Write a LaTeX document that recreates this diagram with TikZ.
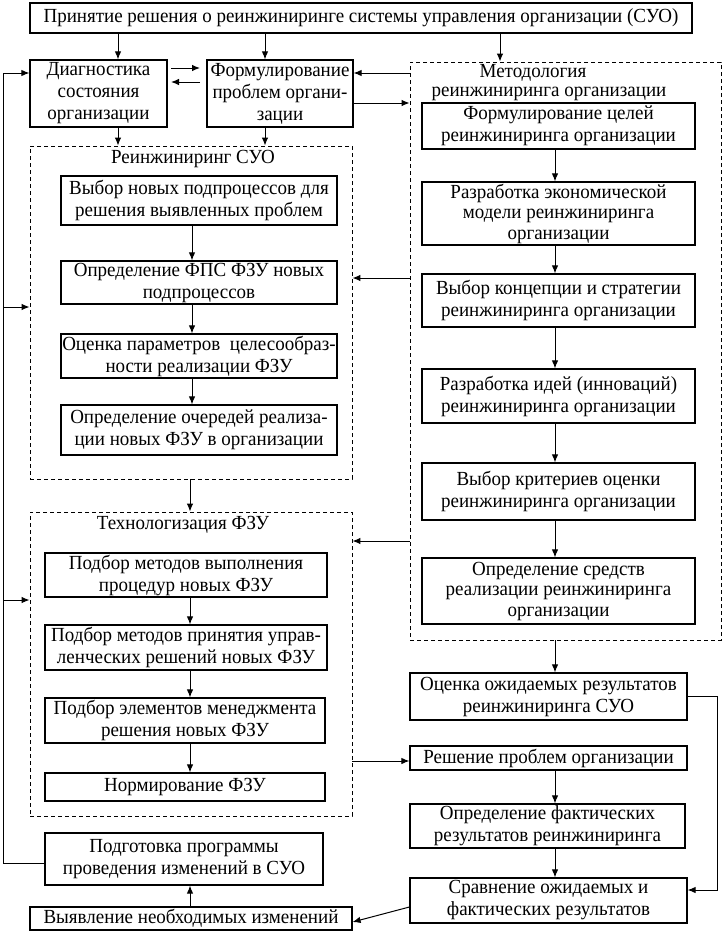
\documentclass[tikz,border=0pt]{standalone}
\usepackage{fontspec}
\setmainfont{Liberation Serif}[FakeStretch=0.95]
\usetikzlibrary{arrows.meta,calc}
\newcommand\fsz{\fontsize{20}{22}\selectfont}
\newcommand\fszt{\fontsize{20}{20.5}\selectfont}
\newcommand\fszm{\fontsize{20}{19}\selectfont}
\begin{document}
\begin{tikzpicture}[x=1pt,y=-1pt,
  box/.style={draw,line width=1.2pt,inner sep=0pt,align=center,font=\fsz},
  grp/.style={draw,line width=0.9pt,dash pattern=on 4pt off 3pt,inner sep=0pt},
  ttl/.style={inner sep=0pt,font=\fsz},
  arr/.style={-{Latex[length=8pt,width=6.5pt]},line width=1pt},
  ln/.style={line width=1pt}]
\useasboundingbox (0,0) rectangle (723,932);
\tikzset{bb/.code args={#1,#2,#3,#4}{\pgfkeysalso{minimum width={(#3-#1)*1pt},minimum height={(#4-#2)*1pt}}}}
% group frames
\node[grp,bb={410,62,721,640}] (meth) at (565.5,351) {};
\node[grp,bb={30,146,352,479}] (reeng) at (191,312.5) {};
\node[grp,bb={30,512,352,816}] (tech) at (191,664) {};
\node[ttl,font=\fszm,align=center] (methT) at (549,83) {Методология\hspace*{32pt}\\реинжиниринга организации};
\node[ttl] (reengT) at (193,159) {Реинжиниринг СУО};
\node[ttl] (techT) at (183,525) {Технологизация ФЗУ};
% top
\node[box,bb={30,3,692,33}] (top) at (361,18) {Принятие решения о реинжиниринге системы управления организации (СУО)};
\node[box,bb={30,60,167,127}] (diag) at (98.5,93.5) {Диагностика\\состояния\\организации};
\node[box,bb={207,60,353,127}] (form) at (280,93.5) {Формулирование\\проблем органи-\\зации};
% reengineering
\node[box,bb={61,176,337,225}] (r1) at (199,200.5) {Выбор новых подпроцессов для\\решения выявленных проблем};
\node[box,bb={61,261,337,304}] (r2) at (199,282.5) {Определение ФПС ФЗУ новых\\подпроцессов};
\node[box,bb={61,334,337,378}] (r3) at (199,356) {Оценка параметров~ целесообраз-\\ности реализации ФЗУ};
\node[box,bb={61,405,337,455}] (r4) at (199,430) {Определение очередей реализа-\\ции новых ФЗУ в организации};
% technologization
\node[box,bb={45,553,327,597}] (t1) at (186,575) {Подбор методов выполнения\\процедур новых ФЗУ};
\node[box,bb={45,625,327,670}] (t2) at (186,647.5) {Подбор методов принятия управ-\\ленческих решений новых ФЗУ};
\node[box,bb={45,698,325,743}] (t3) at (185,720.5) {Подбор элементов менеджмента\\решения новых ФЗУ};
\node[box,bb={45,773,325,801}] (t4) at (185,787) {Нормирование ФЗУ};
% methodology
\node[box,bb={422,103,695,149}] (m1) at (558.5,126) {Формулирование целей\\реинжиниринга организации};
\node[box,bb={422,182,695,245},font=\fszt] (m2) at (558.5,213.5) {Разработка экономической\\модели реинжиниринга\\организации};
\node[box,bb={422,274,695,327}] (m3) at (558.5,300.5) {Выбор концепции и стратегии\\реинжиниринга организации};
\node[box,bb={422,369,695,423}] (m4) at (558.5,396) {Разработка идей (инноваций)\\реинжиниринга организации};
\node[box,bb={422,463,695,520}] (m5) at (558.5,491.5) {Выбор критериев оценки\\реинжиниринга организации};
\node[box,bb={422,558,695,624},font=\fszt] (m6) at (558.5,591) {Определение средств\\реализации реинжиниринга\\организации};
% right bottom
\node[box,bb={410,673,687,720}] (ocen) at (548.5,696.5) {Оценка ожидаемых результатов\\реинжиниринга СУО};
\node[box,bb={410,746,687,770}] (resh) at (548.5,758) {Решение проблем организации};
\node[box,bb={410,804,685,848}] (fact) at (547.5,826) {Определение фактических\\результатов реинжиниринга};
\node[box,bb={410,878,687,923}] (srav) at (548.5,900.5) {Сравнение ожидаемых и\\фактических результатов};
% left bottom
\node[box,bb={45,833,323,885}] (podg) at (184,859) {Подготовка программы\\проведения изменений в СУО};
\node[box,bb={30,907,352,930}] (vyy) at (191,918.5) {Выявление необходимых изменений};
% helper coordinates
\coordinate (x118) at (118,0);
\coordinate (x265) at (265,0);
\coordinate (x500) at (500,0);
\coordinate (x192) at (192,0);
\coordinate (x190) at (190,0);
\coordinate (x555) at (555,0);
\coordinate (x717) at (717,0);
\coordinate (x3) at (3,0);
\coordinate (y73) at (0,73);
\coordinate (y103) at (0,103);
\coordinate (y278) at (0,278);
\coordinate (y307) at (0,307);
\coordinate (y541) at (0,541);
\coordinate (y600) at (0,600);
\coordinate (y696) at (0,696);
\coordinate (y761) at (0,761);
\coordinate (y863) at (0,863);
\coordinate (y890) at (0,890);
\coordinate (y907) at (0,907);
\coordinate (y922) at (0,922);
\coordinate (da) at (171,68);
\coordinate (db) at (200,68);
\coordinate (dc) at (200,82);
\coordinate (dd) at (171,82);
% top arrows
\draw[arr] (top.south -| x118) -- (diag.north -| x118);
\draw[arr] (top.south -| x265) -- (form.north -| x265);
\draw[arr] (top.south -| x500) -- (meth.north -| x500);
\draw[arr] (da) -- (db);
\draw[arr] (dc) -- (dd);
\draw[arr] (meth.west |- y73) -- (form.east |- y73);
\draw[arr] (form.east |- y103) -- (meth.west |- y103);
\draw[arr] (diag.south -| x118) -- (reeng.north -| x118);
\draw[arr] (form.south -| x265) -- (reeng.north -| x265);
% reeng chain
\draw[arr] (r1.south -| x192) -- (r2.north -| x192);
\draw[arr] (r2.south -| x192) -- (r3.north -| x192);
\draw[arr] (r3.south -| x192) -- (r4.north -| x192);
\draw[arr] (meth.west |- y278) -- (reeng.east |- y278);
\draw[arr] (reeng.south -| x190) -- (tech.north -| x190);
% tech chain
\draw[arr] (t1.south -| x190) -- (t2.north -| x190);
\draw[arr] (t2.south -| x190) -- (t3.north -| x190);
\draw[arr] (t3.south -| x190) -- (t4.north -| x190);
\draw[arr] (meth.west |- y541) -- (tech.east |- y541);
% methodology chain
\draw[arr] (m1.south -| x555) -- (m2.north -| x555);
\draw[arr] (m2.south -| x555) -- (m3.north -| x555);
\draw[arr] (m3.south -| x555) -- (m4.north -| x555);
\draw[arr] (m4.south -| x555) -- (m5.north -| x555);
\draw[arr] (m5.south -| x555) -- (m6.north -| x555);
\draw[arr] (meth.south -| x555) -- (ocen.north -| x555);
% right bottom
\draw[arr] (tech.east |- y761) -- (resh.west |- y761);
\draw[arr] (resh.south -| x555) -- (fact.north -| x555);
\draw[arr] (fact.south -| x555) -- (srav.north -| x555);
\draw[arr] (ocen.east |- y696) -- (x717 |- y696) -- (x717 |- y890) -- (srav.east |- y890);
\draw[arr] (srav.west |- y907) -- (vyy.east |- y922);
\draw[arr] (vyy.north -| x190) -- (podg.south -| x190);
% feedback
\draw[arr] (podg.west |- y863) -- (x3 |- y863) -- (x3 |- y73) -- (diag.west |- y73);
\draw[arr] (x3 |- y307) -- (reeng.west |- y307);
\draw[arr] (x3 |- y600) -- (tech.west |- y600);
\end{tikzpicture}
\end{document}
